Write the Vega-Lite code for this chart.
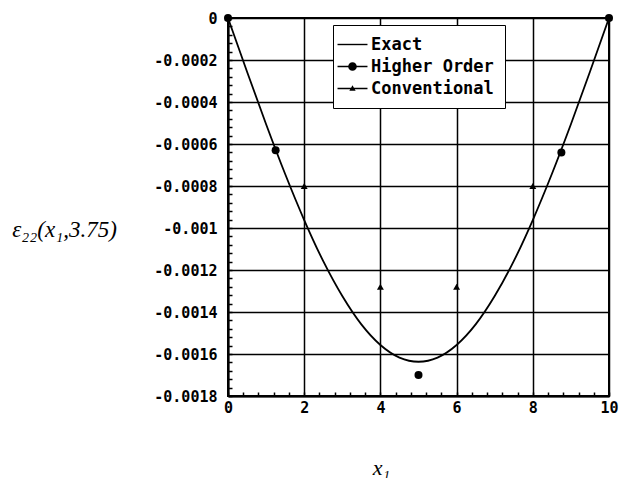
{
  "$schema": "https://vega.github.io/schema/vega-lite/v6.json",
  "width": 381,
  "height": 378,
  "autosize": {"type": "none"},
  "padding": {"left": 228, "top": 18, "right": 11, "bottom": 82},
  "background": "white",
  "config": {
    "view": {"stroke": "black", "strokeWidth": 2},
    "axis": {
      "domainColor": "black",
      "domainWidth": 2,
      "tickColor": "black",
      "tickWidth": 1.5,
      "tickSize": -4,
      "gridColor": "black",
      "gridWidth": 1.5,
      "labelFont": "DejaVu Sans Mono",
      "labelFontWeight": "bold",
      "labelFontSize": 15,
      "labelColor": "black",
      "labelOverlap": false,
      "labelFlush": false,
      "titleFont": "Liberation Serif",
      "titleFontStyle": "italic",
      "titleFontWeight": "normal",
      "titleColor": "black"
    }
  },
  "datasets": {
    "exact": [
      {"x1": 0, "e22": 0},
      {"x1": 0.5, "e22": -0.000256},
      {"x1": 1, "e22": -0.000506},
      {"x1": 1.5, "e22": -0.000743},
      {"x1": 2, "e22": -0.000962},
      {"x1": 2.5, "e22": -0.001158},
      {"x1": 3, "e22": -0.001324},
      {"x1": 3.5, "e22": -0.001459},
      {"x1": 4, "e22": -0.001557},
      {"x1": 4.5, "e22": -0.001617},
      {"x1": 5, "e22": -0.001637},
      {"x1": 5.5, "e22": -0.001617},
      {"x1": 6, "e22": -0.001557},
      {"x1": 6.5, "e22": -0.001459},
      {"x1": 7, "e22": -0.001324},
      {"x1": 7.5, "e22": -0.001158},
      {"x1": 8, "e22": -0.000962},
      {"x1": 8.5, "e22": -0.000743},
      {"x1": 9, "e22": -0.000506},
      {"x1": 9.5, "e22": -0.000256},
      {"x1": 10, "e22": 0}
    ],
    "markers": [
      {"series": "Conventional", "x1": 0, "e22": 0},
      {"series": "Conventional", "x1": 2, "e22": -0.0008},
      {"series": "Conventional", "x1": 4, "e22": -0.00128},
      {"series": "Conventional", "x1": 6, "e22": -0.00128},
      {"series": "Conventional", "x1": 8, "e22": -0.0008},
      {"series": "Conventional", "x1": 10, "e22": 0},
      {"series": "Higher Order", "x1": 0, "e22": 0},
      {"series": "Higher Order", "x1": 1.25, "e22": -0.00063},
      {"series": "Higher Order", "x1": 5, "e22": -0.0017},
      {"series": "Higher Order", "x1": 8.75, "e22": -0.00064},
      {"series": "Higher Order", "x1": 10, "e22": 0}
    ]
  },
  "encoding": {
    "x": {
      "field": "x1",
      "type": "quantitative",
      "scale": {"domain": [0, 10], "nice": false, "zero": false},
      "axis": {
        "values": [0, 0.4, 0.8, 1.2, 1.6, 2, 2.4, 2.8, 3.2, 3.6, 4, 4.4, 4.8, 5.2, 5.6, 6, 6.4, 6.8, 7.2, 7.6, 8, 8.4, 8.8, 9.2, 9.6, 10],
        "grid": true,
        "gridOpacity": {"condition": {"test": "abs(datum.value/2 - round(datum.value/2)) < 1e-6", "value": 1}, "value": 0},
        "labelExpr": "abs(datum.value/2 - round(datum.value/2)) < 1e-6 ? '' + datum.value : ''",
        "labelPadding": 8,
        "title": "x₁",
        "titleFontSize": 22,
        "titleX": 153,
        "titleY": 71,
        "titleBaseline": "middle",
        "titleAlign": "center"
      }
    },
    "y": {
      "field": "e22",
      "type": "quantitative",
      "scale": {"domain": [-0.0018, 0], "nice": false, "zero": false},
      "axis": {
        "values": [0, -0.00004, -0.00008, -0.00012, -0.00016, -0.0002, -0.00024, -0.00028, -0.00032, -0.00036, -0.0004, -0.00044, -0.00048, -0.00052, -0.00056, -0.0006, -0.00064, -0.00068, -0.00072, -0.00076, -0.0008, -0.00084, -0.00088, -0.00092, -0.00096, -0.001, -0.00104, -0.00108, -0.00112, -0.00116, -0.0012, -0.00124, -0.00128, -0.00132, -0.00136, -0.0014, -0.00144, -0.00148, -0.00152, -0.00156, -0.0016, -0.00164, -0.00168, -0.00172, -0.00176, -0.0018],
        "grid": true,
        "gridOpacity": {"condition": {"test": "abs(datum.value/0.0002 - round(datum.value/0.0002)) < 1e-6", "value": 1}, "value": 0},
        "labelExpr": "abs(datum.value/0.0002 - round(datum.value/0.0002)) < 1e-6 ? '' + datum.value : ''",
        "labelPadding": 15,
        "title": "ε₂₂(x₁,3.75)",
        "titleAngle": 0,
        "titleFontSize": 23,
        "titleX": -164,
        "titleY": 211,
        "titleAlign": "center",
        "titleBaseline": "middle"
      }
    }
  },
  "layer": [
    {
      "data": {"name": "exact"},
      "mark": {"type": "line", "color": "black", "strokeWidth": 1.8, "interpolate": "monotone"}
    },
    {
      "data": {"name": "markers"},
      "transform": [{"filter": "datum.series === 'Conventional'"}],
      "mark": {"type": "point", "shape": "triangle-up", "filled": true, "color": "black", "opacity": 1, "size": 48}
    },
    {
      "data": {"name": "markers"},
      "transform": [{"filter": "datum.series === 'Higher Order'"}],
      "mark": {"type": "point", "shape": "circle", "filled": true, "color": "black", "opacity": 1, "size": 64}
    },
    {
      "data": {"name": "markers"},
      "mark": {"type": "point", "filled": true, "color": "black", "opacity": 1, "size": 0},
      "encoding": {
        "shape": {
          "field": "series",
          "type": "nominal",
          "scale": {
            "domain": ["Exact", "Higher Order", "Conventional"],
            "range": [
              "M-2.14,-0.1H2.14V0.1H-2.14Z",
              "M-2.14,-0.1H2.14V0.1H-2.14ZM-0.62,0A0.62,0.62 0 1,1 0.62,0A0.62,0.62 0 1,1 -0.62,0Z",
              "M-2.14,-0.1H2.14V0.1H-2.14ZM-0.45,0.32L0,-0.45L0.45,0.32Z"
            ]
          },
          "legend": {
            "title": null,
            "orient": "none",
            "legendX": 105,
            "legendY": 7,
            "strokeColor": "black",
            "fillColor": "white",
            "padding": 11,
            "rowPadding": 4,
            "symbolSize": 196,
            "labelOffset": 10,
            "labelFont": "DejaVu Sans Mono",
            "labelFontWeight": "bold",
            "labelFontSize": 17,
            "labelColor": "black",
            "symbolOpacity": 1,
            "symbolFillColor": "black"
          }
        }
      }
    }
  ]
}
